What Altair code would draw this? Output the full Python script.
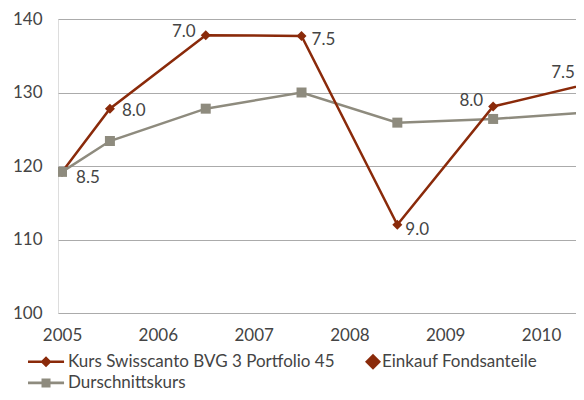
import altair as alt
import pandas as pd

# ---- data ----
years = [2005.0, 2005.5, 2006.5, 2007.5, 2008.5, 2009.5, 2010.5]
kurs = [119.2, 127.8, 137.8, 137.7, 112.0, 128.1, 131.2]
durchschnitt = [119.2, 123.4, 127.8, 130.0, 125.9, 126.4, 127.3]
einkauf_labels = ["8.5", "8.0", "7.0", "7.5", "9.0", "8.0", "7.5"]
series_names = ["Kurs Swisscanto BVG 3 Portfolio 45", "Einkauf Fondsanteile", "Durschnittskurs"]
year_ticks = [2005, 2006, 2007, 2008, 2009, 2010]
y_ticks = [100, 110, 120, 130, 140]

# ---- style ----
RED = "#8A2A0A"
GRAY = "#8E8B7E"
TEXT = "#444444"
FONT = "Lato"
FS = 17

# label placement (style only): dx, dy, align
placements = [
    (14, 6, "left"),
    (12, 2, "left"),
    (-10, -3, "right"),
    (10, 4, "left"),
    (8, 5, "left"),
    (-10, -5, "right"),
    (-14, -11, "right"),
]

df = pd.DataFrame({
    "year": years,
    "kurs": kurs,
    "avg": durchschnitt,
    "label": einkauf_labels,
    "idx": list(range(len(years))),
})

x_scale = alt.Scale(domain=[2004.958, 2010.365], nice=False, zero=False)
y_scale = alt.Scale(domain=[100, 140], nice=False, zero=False)

x_axis = alt.Axis(values=year_ticks, format="d", title=None, grid=False, ticks=False,
                  tickSize=0, domain=False, labelPadding=14, labelFontSize=FS,
                  labelColor=TEXT, labelFont=FONT, labelFlush=False)
y_axis = alt.Axis(values=y_ticks, title=None, grid=True, gridColor="#ababab",
                  gridWidth=1, ticks=False, tickSize=0, domain=False, labelPadding=16,
                  labelFontSize=FS, labelColor=TEXT, labelFont=FONT)

X = alt.X("year:Q", scale=x_scale, axis=x_axis)
base = alt.Chart(df)

gray_line = base.mark_line(color=GRAY, strokeWidth=2.5, clip=True).encode(
    x=X, y=alt.Y("avg:Q", scale=y_scale, axis=y_axis))
red_line = base.mark_line(color=RED, strokeWidth=2.5, clip=True).encode(
    x=X, y=alt.Y("kurs:Q", scale=y_scale, axis=y_axis))
red_pts = base.mark_point(shape="diamond", filled=True, color=RED, size=100,
                          opacity=1, clip=True).encode(
    x=X, y=alt.Y("kurs:Q", scale=y_scale, axis=y_axis))
gray_pts = base.mark_point(shape="square", filled=True, color=GRAY, size=100,
                           opacity=1, clip=True).encode(
    x=X, y=alt.Y("avg:Q", scale=y_scale, axis=y_axis))

text_layers = []
for i, (dx, dy, align) in enumerate(placements):
    t = base.transform_filter(f"datum.idx == {i}").mark_text(
        dx=dx, dy=dy, align=align, baseline="middle", fontSize=FS,
        font=FONT, color=TEXT).encode(
        x=X, y=alt.Y("kurs:Q", scale=y_scale, axis=y_axis), text="label:N")
    text_layers.append(t)

# legend (custom symbols; unit = 8.5 px)
P_KURS = "M-1,-0.15L3.24,-0.15L3.24,0.15L-1,0.15Z M1.12,-0.65L1.77,0L1.12,0.65L0.47,0Z"
P_EINK = "M2.65,-0.94L3.59,0L2.65,0.94L1.71,0Z"
P_AVG = "M-1,-0.15L3.24,-0.15L3.24,0.15L-1,0.15Z M0.59,-0.53L1.65,-0.53L1.65,0.53L0.59,0.53Z"

leg = alt.Legend(title=None, orient="none", legendX=-30, legendY=334, columns=2,
                 direction="horizontal",
                 symbolSize=289, symbolStrokeWidth=0, labelFontSize=FS,
                 labelColor=TEXT, labelFont=FONT, labelOffset=23, rowPadding=3.4,
                 columnPadding=7, padding=0, labelLimit=500, symbolOpacity=1)
legend_df = pd.DataFrame({"series": series_names})
legend_layer = alt.Chart(legend_df).transform_filter("false").mark_point(
    filled=True, opacity=1).encode(
    color=alt.Color("series:N", scale=alt.Scale(domain=series_names, range=[RED, RED, GRAY]), legend=leg),
    shape=alt.Shape("series:N", scale=alt.Scale(domain=series_names, range=[P_KURS, P_EINK, P_AVG]), legend=leg),
)

chart = alt.layer(gray_line, red_line, red_pts, gray_pts, *text_layers, legend_layer).properties(
    width=518, height=294,
    autosize=alt.AutoSizeParams(type="none"),
    padding={"left": 50, "top": 11, "right": 0, "bottom": 79},
).configure_view(stroke=None).configure(font=FONT)

chart.save("out.html", embed_options={"renderer": "svg", "actions": False})
